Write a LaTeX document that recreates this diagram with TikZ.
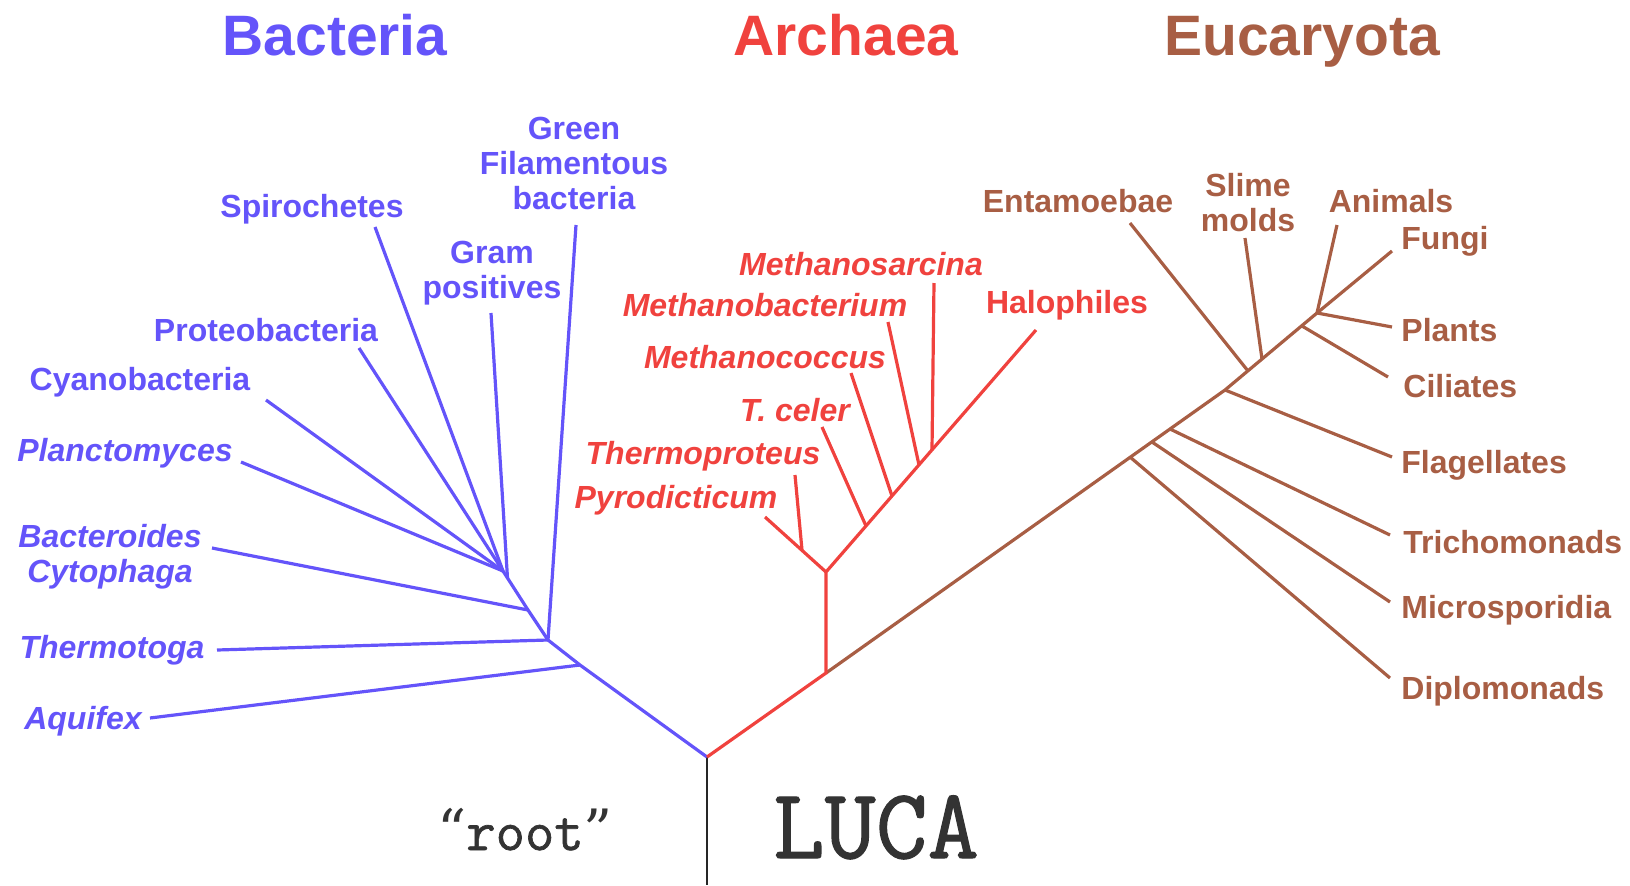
\documentclass[tikz,border=0pt]{standalone}
\usepackage{fontspec}
\setmainfont{Liberation Sans}
\newfontfamily\typewriter[FakeBold=1.2]{Latin Modern Mono}
\newfontfamily\quotefont{DejaVu Serif}
\usepackage{tikz}

\definecolor{bactblue}{RGB}{100,84,250}
\definecolor{archred}{RGB}{240,66,62}
\definecolor{eucbrown}{RGB}{168,94,68}

\tikzset{
  branch/.style={line width=1.6pt},
  taxon/.style={font=\fontsize{16}{17.5}\selectfont\bfseries, align=center, inner sep=0pt},
  taxit/.style={taxon, font=\fontsize{16}{17.5}\selectfont\bfseries\itshape},
  kingdom/.style={font=\fontsize{28.5}{30}\selectfont\bfseries, inner sep=0pt, anchor=base},
  rootnote/.style={anchor=base, inner sep=0pt, black!80},
}

\begin{document}
\begin{tikzpicture}[x=0.5pt,y=-0.5pt]
\useasboundingbox (0,0) rectangle (1630,885);

% domains
\node[kingdom,bactblue] (bacteria) at (335,55) {Bacteria};
\node[kingdom,archred] (archaea) at (846,55) {Archaea};
\node[kingdom,eucbrown] (eucaryota) at (1302,55) {Eucaryota};

% junctions
\coordinate (root) at (707,757);
\coordinate (base) at (707,885);
\coordinate (bD) at (580,665);
\coordinate (bC) at (548,640);
\coordinate (bB) at (528,610);
\coordinate (bG) at (507.5,578);
\coordinate (bA) at (503,571);
\coordinate (aJ) at (826,673);
\coordinate (aY) at (826,572);
\coordinate (aPr) at (802,550);
\coordinate (aCe) at (866,526);
\coordinate (aCo) at (892,496);
\coordinate (aBa) at (919,465);
\coordinate (aSa) at (932,450);
\coordinate (eDi) at (1130,457);
\coordinate (eMi) at (1152,442);
\coordinate (eTr) at (1170,429);
\coordinate (eFl) at (1225,390);
\coordinate (eEn) at (1248,371);
\coordinate (eSl) at (1262,359);
\coordinate (eCi) at (1302,326);
\coordinate (eTop) at (1317,313);

% tips
\coordinate (aquifexT) at (150,718);
\coordinate (thermotogaT) at (217,650);
\coordinate (bacteroidesT) at (212,548);
\coordinate (planctT) at (241,462);
\coordinate (cyanoT) at (266,400);
\coordinate (proteoT) at (359,348);
\coordinate (spiroT) at (375,227);
\coordinate (gramT) at (491,313);
\coordinate (greenT) at (576,225);
\coordinate (haloT) at (1036,330);
\coordinate (sarcT) at (934,283);
\coordinate (mbacT) at (888,322);
\coordinate (mcocT) at (851,373);
\coordinate (celerT) at (822,427);
\coordinate (tprotT) at (795,475);
\coordinate (pyroT) at (765,517);
\coordinate (diploT) at (1390,678);
\coordinate (microT) at (1390,602);
\coordinate (trichT) at (1390,535);
\coordinate (flagT) at (1392,457);
\coordinate (ciliT) at (1388,377);
\coordinate (plantT) at (1392,327);
\coordinate (fungiT) at (1392,251);
\coordinate (animT) at (1337,225);
\coordinate (slimeT) at (1245,238);
\coordinate (entaT) at (1130,223);

% branches
\draw[line width=1.3pt,black!85] (root) -- (base);
\draw[branch,bactblue] (root) -- (bD) -- (bC) -- (bB) -- (bA);
\foreach \a/\b in {bD/aquifexT, bC/thermotogaT, bC/greenT, bB/bacteroidesT, bG/gramT,
                   bA/planctT, bA/cyanoT, bA/proteoT, bA/spiroT}
  \draw[branch,bactblue] (\a) -- (\b);
\draw[branch,eucbrown] (aJ) -- (eFl) -- (eTop);
\foreach \a/\b in {eDi/diploT, eMi/microT, eTr/trichT, eFl/flagT, eCi/ciliT,
                   eTop/plantT, eTop/fungiT, eTop/animT, eSl/slimeT, eEn/entaT}
  \draw[branch,eucbrown] (\a) -- (\b);
\draw[branch,archred] (root) -- (aJ) -- (aY) -- (haloT);
\foreach \a/\b in {aY/pyroT, aPr/tprotT, aCe/celerT, aCo/mcocT, aBa/mbacT, aSa/sarcT}
  \draw[branch,archred] (\a) -- (\b);

% labels
\node[taxon,bactblue] (green) at (574,163) {Green\\Filamentous\\bacteria};
\node[taxon,bactblue] (spiro) at (312,209) {Spirochetes};
\node[taxon,bactblue] (gram) at (492,273) {Gram\\positives};
\node[taxon,bactblue] (proteo) at (266,330) {Proteobacteria};
\node[taxon,bactblue] (cyano) at (140,382) {Cyanobacteria};
\node[taxit,bactblue] (planct) at (125,453) {Planctomyces};
\node[taxit,bactblue] (bacteroides) at (110,557) {Bacteroides\\Cytophaga};
\node[taxit,bactblue] (thermotoga) at (112,650) {Thermotoga};
\node[taxit,bactblue] (aquifex) at (83,721) {Aquifex};

\node[taxit,archred] (sarc) at (861,264) {Methanosarcina};
\node[taxit,archred] (mbac) at (765,305) {Methanobacterium};
\node[taxit,archred] (mcoc) at (765,357) {Methanococcus};
\node[taxit,archred] (celer) at (795,410) {T. celer};
\node[taxit,archred] (tprot) at (703,456) {Thermoproteus};
\node[taxit,archred] (pyro) at (676,500) {Pyrodicticum};
\node[taxon,archred] (halo) at (1067,305) {Halophiles};

\node[taxon,eucbrown] (enta) at (1078,201) {Entamoebae};
\node[taxon,eucbrown] (slime) at (1248,203) {Slime\\molds};
\node[taxon,eucbrown] (anim) at (1391,201) {Animals};
\node[taxon,eucbrown,anchor=west] (fungi) at (1401,241) {Fungi};
\node[taxon,eucbrown,anchor=west] (plant) at (1401,330) {Plants};
\node[taxon,eucbrown,anchor=west] (cili) at (1403,386) {Ciliates};
\node[taxon,eucbrown,anchor=west] (flag) at (1401,465) {Flagellates};
\node[taxon,eucbrown,anchor=west] (trich) at (1403,542) {Trichomonads};
\node[taxon,eucbrown,anchor=west] (micro) at (1401,610) {Microsporidia};
\node[taxon,eucbrown,anchor=west] (diplo) at (1401,691) {Diplomonads};

\node[rootnote,font=\typewriter\fontsize{28.5}{30}\selectfont] (rootlabel) at (525,850) {{\quotefont“}root{\quotefont”}};
\node[rootnote,font=\typewriter\fontsize{50}{52}\selectfont] (luca) at (876,858) {LUCA};
\end{tikzpicture}
\end{document}
